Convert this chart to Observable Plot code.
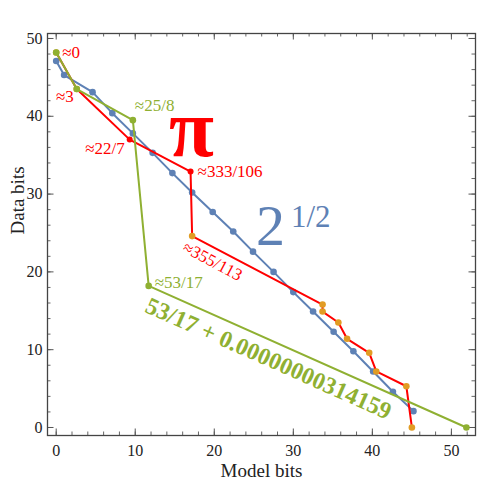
<!DOCTYPE html>
<html><head><meta charset="utf-8">
<script src="https://cdn.jsdelivr.net/npm/d3@7"></script>
<script src="https://cdn.jsdelivr.net/npm/@observablehq/plot@0.6"></script>
<style>body{margin:0;background:#fff}</style>
</head><body><div id="chart"></div>
<script>
// sqrt(2) convergents (blue)
const blueX = [0, 1.0, 4.6, 7.1, 9.7, 12.2, 14.7, 17.2, 19.8, 22.4, 24.9, 27.5, 30.0, 32.5, 35.1, 37.6, 40.1, 42.6, 45.2];
const blueY = [47.1, 45.3, 43.1, 40.4, 37.8, 35.3, 32.7, 30.2, 27.7, 25.2, 22.6, 20.0, 17.4, 14.9, 12.3, 9.8, 7.2, 4.6, 2.1];
// pi approximations (red line, orange points)
const redX = [0, 2.6, 9.3, 17.0, 17.2, 33.7, 33.7, 35.7, 36.8, 39.6, 40.5, 44.3, 45.0];
const redY = [48.2, 43.5, 37.0, 32.9, 24.6, 15.8, 14.9, 13.5, 11.4, 9.6, 7.2, 5.3, 0];
const redLabels = ["≈0", "≈3", "≈22/7", "≈333/106", "≈355/113", "", "", "", "", "", "", "", ""];
// 53/17 + ... (green)
const greenX = [0, 2.6, 9.7, 11.7, 51.9];
const greenY = [48.2, 43.5, 39.5, 18.2, 0];
const greenLabels = ["", "", "≈25/8", "≈53/17", ""];
const xTicks = [0, 10, 20, 30, 40, 50];
const yTicks = [0, 10, 20, 30, 40, 50];

const BLUE = "#5e81b5", RED = "#ff0000", ORANGE = "#e19c24", GREEN = "#8fb032";
const FONT = "Liberation Serif, Times New Roman, serif";

const blue = blueX.map((x, i) => ({x, y: blueY[i]}));
const red = redX.map((x, i) => ({x, y: redY[i], label: redLabels[i], idx: i}));
const green = greenX.map((x, i) => ({x, y: greenY[i], label: greenLabels[i], idx: i}));

const W = 480, H = 484, mL = 47, mR = 5, mT = 33, mB = 49;
const innerH = H - mT - mB, innerW = W - mL - mR;
const minorX = d3.range(0, 54, 2), minorY = d3.range(0, 51, 2);

const lab = (i, arr) => arr.filter(d => d.idx === i);

const chart = Plot.plot({
  width: W, height: H,
  marginLeft: mL, marginRight: mR, marginTop: mT, marginBottom: mB,
  style: {fontFamily: FONT, background: "#fff"},
  x: {domain: [-1.1, 53.05]},
  y: {domain: [-1.03, 50.64]},
  marks: [
    // ticks on all four sides, pointing inward
    Plot.tickX(minorX, {x: d => d, insetTop: innerH - 3.5, stroke: "#666"}),
    Plot.tickX(minorX, {x: d => d, insetBottom: innerH - 3.5, stroke: "#666"}),
    Plot.tickX(xTicks, {x: d => d, insetTop: innerH - 6.5, stroke: "#555"}),
    Plot.tickX(xTicks, {x: d => d, insetBottom: innerH - 6.5, stroke: "#555"}),
    Plot.tickY(minorY, {y: d => d, insetRight: innerW - 3.5, stroke: "#666"}),
    Plot.tickY(minorY, {y: d => d, insetLeft: innerW - 3.5, stroke: "#666"}),
    Plot.tickY(yTicks, {y: d => d, insetRight: innerW - 6.5, stroke: "#555"}),
    Plot.tickY(yTicks, {y: d => d, insetLeft: innerW - 6.5, stroke: "#555"}),
    Plot.frame({stroke: "#444", strokeWidth: 1.3}),
    Plot.axisX(xTicks, {tickSize: 0, tickPadding: 9, fontSize: 16, fill: "#222", label: null}),
    Plot.axisY(yTicks, {tickSize: 0, tickPadding: 5, fontSize: 16, fill: "#222", label: null}),
    Plot.text(["Model bits"], {frameAnchor: "bottom", dy: 35, text: d => d, fontSize: 19, fill: "#222", lineAnchor: "middle"}),
    Plot.text(["Data bits"], {frameAnchor: "left", dx: -30, rotate: -90, text: d => d, fontSize: 19, fill: "#222"}),

    // blue series
    Plot.line(blue, {x: "x", y: "y", stroke: BLUE, strokeWidth: 2}),
    Plot.dot(blue, {x: "x", y: "y", r: 3.3, fill: BLUE}),
    // red series
    Plot.line(red, {x: "x", y: "y", stroke: RED, strokeWidth: 2}),
    Plot.dot(red.filter(d => d.idx >= 4 || d.idx < 2), {x: "x", y: "y", r: 3.3, fill: ORANGE}),
    Plot.dot(red.filter(d => d.idx === 2 || d.idx === 3), {x: "x", y: "y", r: 3, fill: RED}),
    // green series
    Plot.line(green, {x: "x", y: "y", stroke: GREEN, strokeWidth: 2}),
    Plot.dot(green, {x: "x", y: "y", r: 3.3, fill: GREEN}),

    // red labels
    Plot.text(lab(0, red), {x: "x", y: "y", text: "label", fill: RED, fontSize: 17, textAnchor: "start", dx: 6, dy: 0}),
    Plot.text(lab(1, red), {x: "x", y: "y", text: "label", fill: RED, fontSize: 17, textAnchor: "end", dx: -3, dy: 7}),
    Plot.text(lab(2, red), {x: "x", y: "y", text: "label", fill: RED, fontSize: 17, textAnchor: "end", dx: -5, dy: 9}),
    Plot.text(lab(3, red), {x: "x", y: "y", text: "label", fill: RED, fontSize: 17, textAnchor: "start", dx: 7, dy: 0}),
    Plot.text(lab(4, red), {x: "x", y: "y", text: "label", fill: RED, fontSize: 17, textAnchor: "start", dx: -8, dy: 10, rotate: 28}),
    Plot.text(lab(3, red), {x: "x", y: "y", text: () => "π", fill: RED, fontSize: 82, fontWeight: "bold", textAnchor: "middle", dx: 1, dy: -42}),
    // green labels
    Plot.text(lab(2, green), {x: "x", y: "y", text: "label", fill: GREEN, fontSize: 17, textAnchor: "start", dx: 2, dy: -15}),
    Plot.text(lab(3, green), {x: "x", y: "y", text: "label", fill: GREEN, fontSize: 17, textAnchor: "start", dx: 6, dy: -3}),
    Plot.text(lab(3, green), {x: "x", y: "y", text: () => "53/17 + 0.00000000314159", fill: GREEN, fontSize: 24, fontWeight: "bold", textAnchor: "start", lineAnchor: "top", dx: 2, dy: 10, rotate: 24}),
    // blue label 2^(1/2)
    Plot.text(blue.filter((d, i) => i === 10), {x: "x", y: "y", text: () => "2", fill: BLUE, fontSize: 58, textAnchor: "start", dx: 3, dy: -25}),
    Plot.text(blue.filter((d, i) => i === 10), {x: "x", y: "y", text: () => "1/2", fill: BLUE, fontSize: 31, textAnchor: "start", dx: 38, dy: -35})
  ]
});
document.getElementById("chart").appendChild(chart);
</script>
</body></html>
